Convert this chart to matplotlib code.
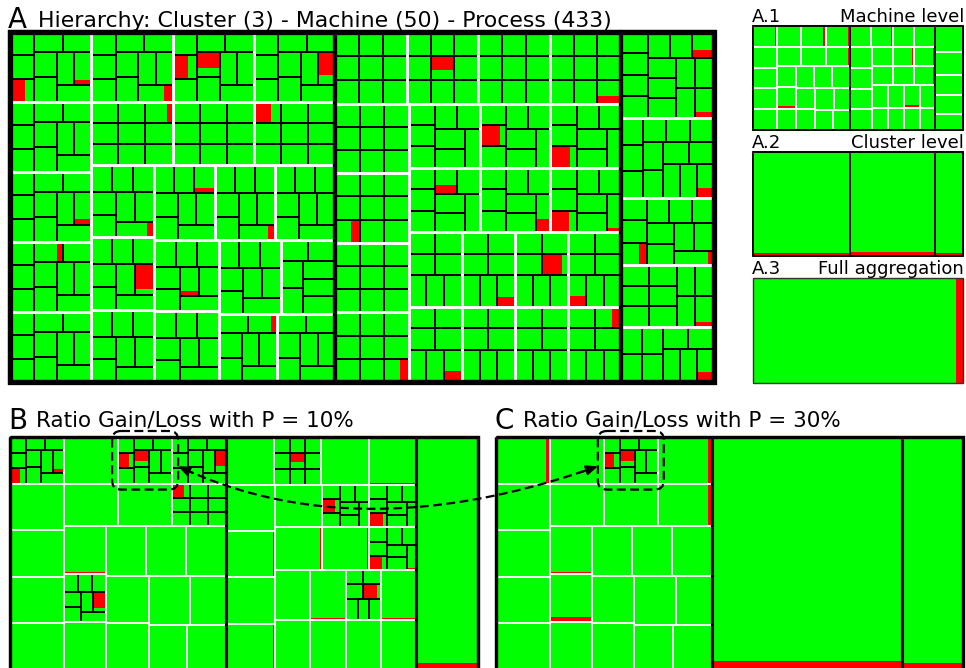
import numpy as np
import matplotlib
matplotlib.use('Agg')
import matplotlib.pyplot as plt
from matplotlib.patches import Rectangle, FancyBboxPatch

GREEN = '#00ff00'
RED = '#ff0000'

# processes per machine, one list per cluster
c1_procs = [10, 10, 10, 10, 10, 10, 10, 10, 9, 9, 8, 9, 8, 8, 8, 8, 8, 7, 7, 7, 8, 8, 8]
c2_procs = [9, 9, 9, 9, 9, 9, 9, 9, 8, 8, 8, 8, 8, 8, 7, 7, 7, 7, 7, 7, 7, 7]
c3_procs = [14, 13, 10, 11, 9]
machine_procs = [c1_procs, c2_procs, c3_procs]

# (cluster, machine, process, loss share)
red_procs = [
    (0, 0, 2, 0.62), (0, 2, 1, 0.65), (0, 2, 5, 0.65), (0, 3, 8, 0.70),
    (0, 11, 0, 0.65), (0, 12, 6, 0.80),
    (1, 1, 5, 0.60), (1, 9, 1, 0.75), (1, 10, 2, 0.75), (1, 13, 2, 0.70),
    (1, 18, 3, 0.75),
    (0, 0, 8, 0.15), (0, 1, 9, 0.25), (0, 5, 8, 0.20), (0, 15, 7, 0.20),
    (0, 6, 3, 0.20), (0, 8, 4, 0.20), (0, 14, 2, 0.20), (0, 18, 1, 0.20),
    (0, 20, 5, 0.20), (0, 10, 7, 0.20),
    (1, 3, 8, 0.30), (1, 12, 7, 0.35), (1, 16, 6, 0.30), (1, 13, 7, 0.10),
    (1, 5, 2, 0.35), (1, 7, 8, 0.35), (1, 11, 3, 0.35), (1, 15, 6, 0.35),
    (1, 19, 4, 0.35), (1, 21, 1, 0.35),
    (2, 0, 13, 0.20), (2, 2, 9, 0.15), (2, 3, 10, 0.15),
    (2, 1, 12, 0.30), (2, 4, 8, 0.30), (2, 0, 6, 0.30), (2, 3, 2, 0.30),
]

# which nodes are opened up in each view
b_clusters = [0, 1]
b_machines = [(0, 0), (0, 2), (0, 3), (0, 11), (0, 12),
              (1, 1), (1, 9), (1, 10), (1, 13), (1, 18)]
c_clusters = [0]
c_machines = [(0, 2)]
dashed_machine = (0, 2)

loss = [[np.zeros(n) for n in procs] for procs in machine_procs]
for ci, mi, pi, v in red_procs:
    loss[ci][mi][pi] = v
cluster_sizes = [sum(p) for p in machine_procs]


def worst(row, side):
    s = sum(row)
    return max(max(side * side * r / (s * s), s * s / (side * side * r)) for r in row)


def squarify(values, x, y, w, h):
    order = sorted(range(len(values)), key=lambda i: -values[i])
    scale = w * h / sum(values)
    areas = [values[i] * scale for i in order]
    out = [None] * len(values)
    k = 0
    while k < len(areas):
        side = min(w, h)
        row = [areas[k]]
        while k + len(row) < len(areas) and \
                worst(row + [areas[k + len(row)]], side) <= worst(row, side):
            row.append(areas[k + len(row)])
        s = sum(row)
        if w >= h:
            cw = s / h
            yy = y
            for j, a in enumerate(row):
                out[order[k + j]] = (x, yy, cw, a / cw)
                yy += a / cw
            x += cw
            w -= cw
        else:
            rh = s / w
            xx = x
            for j, a in enumerate(row):
                out[order[k + j]] = (xx, y, a / rh, rh)
                xx += a / rh
            y += rh
            h -= rh
        k += len(row)
    return out


def fill_cell(ax, r, lo):
    x, y, w, h = r
    if lo <= 0:
        ax.add_patch(Rectangle((x, y), w, h, fc=GREEN, ec='none', zorder=1))
        return
    vals = [1 - lo, lo]
    cols = [GREEN, RED]
    for (sx, sy, sw, sh), c in zip(squarify(vals, x, y, w, h), cols):
        ax.add_patch(Rectangle((sx, sy), sw, sh, fc=c, ec='none', zorder=1))


def border(ax, r, color, lw, z):
    x, y, w, h = r
    ax.add_patch(Rectangle((x, y), w, h, fill=False, ec=color, lw=lw, zorder=z))


def draw_tree(ax, panel, open_clusters, open_machines, lw_p, lw_m, lw_c, lw_o,
              full=False):
    found = {}
    if full:
        fill_cell(ax, panel, sum(l.sum() for c in loss for l in c) / sum(cluster_sizes))
        border(ax, panel, '#333333', lw_o, 6)
        return found
    crects = squarify(cluster_sizes, *panel)
    for ci, cr in enumerate(crects):
        if ci in open_clusters:
            mrects = squarify(machine_procs[ci], *cr)
            for mi, mr in enumerate(mrects):
                found[(ci, mi)] = mr
                if (ci, mi) in open_machines:
                    n = machine_procs[ci][mi]
                    prects = squarify([1] * n, *mr)
                    for pi, pr in enumerate(prects):
                        fill_cell(ax, pr, loss[ci][mi][pi])
                        border(ax, pr, 'black', lw_p, 2)
                else:
                    fill_cell(ax, mr, loss[ci][mi].mean())
                border(ax, mr, 'white', lw_m, 3)
        else:
            fill_cell(ax, cr, sum(l.sum() for l in loss[ci]) / cluster_sizes[ci])
        border(ax, cr, 'black', lw_c, 4)
    border(ax, panel, 'black', lw_o, 5)
    return found


fig = plt.figure(figsize=(9.66, 6.68), dpi=100)
ax = fig.add_axes([0, 0, 1, 1])
ax.set_xlim(0, 966)
ax.set_ylim(668, 0)
ax.axis('off')

PA = (10, 32, 704, 350)
PA1 = (753, 26, 210, 104)
PA2 = (753, 152, 210, 104)
PA3 = (753, 278, 210, 105)
PB = (10, 437, 468, 233)
PC = (496, 437, 467, 233)

# shadow behind panel A
ax.add_patch(Rectangle((PA[0] - 2, PA[1] + 3), PA[2], PA[3], fc='#999999', ec='none', zorder=0))
draw_tree(ax, PA, [0, 1, 2], [(c, m) for c in range(3) for m in range(len(machine_procs[c]))],
          1.4, 1.9, 3.0, 3.8)
draw_tree(ax, PA1, [0, 1, 2], [], 1.0, 1.3, 1.1, 1.2)
draw_tree(ax, PA2, [], [], 1.0, 1.0, 1.1, 1.2)
draw_tree(ax, PA3, [], [], 1.0, 1.0, 1.0, 1.0, full=True)
mb = draw_tree(ax, PB, b_clusters, b_machines, 1.1, 1.1, 2.2, 2.4)
mc = draw_tree(ax, PC, c_clusters, c_machines, 1.1, 1.1, 2.2, 2.4)

# dashed boxes around the same machine in B and C
boxes = []
for m in (mb, mc):
    x, y, w, h = m[dashed_machine]
    pad = 6
    ax.add_patch(FancyBboxPatch((x - pad, y - pad), w + 2 * pad, h + 2 * pad,
                                boxstyle='round,pad=0,rounding_size=9',
                                fill=False, ec='black', lw=1.6, ls=(0, (4, 2)), zorder=8))
    boxes.append((x - pad, y - pad, w + 2 * pad, h + 2 * pad))

bx, by, bw, bh = boxes[0]
cx, cy, cw, ch = boxes[1]
p0 = np.array([bx + bw, by + bh / 2 + 6])
p2 = np.array([cx, cy + bh / 2 + 6])
p1 = np.array([(p0[0] + p2[0]) / 2 - 30, p0[1] + 85])
t = np.linspace(0, 1, 200)[:, None]
curve = (1 - t) ** 2 * p0 + 2 * (1 - t) * t * p1 + t ** 2 * p2
ax.plot(curve[4:-4, 0], curve[4:-4, 1], color='black', lw=1.6, ls=(0, (4, 2)), zorder=9)
for tip, back in ((curve[0], curve[8]), (curve[-1], curve[-9])):
    ax.annotate('', xy=tip, xytext=back,
                arrowprops=dict(arrowstyle='-|>,head_length=0.7,head_width=0.3',
                                color='black', lw=1.4, shrinkA=0, shrinkB=0), zorder=9)

# labels
ax.text(8, 28, 'A', fontsize=20, va='baseline', ha='left')
ax.text(38, 27, 'Hierarchy: Cluster (3) - Machine (50) - Process (433)', fontsize=15.8,
        va='baseline', ha='left')
ax.text(752, 22, 'A.1', fontsize=13, va='baseline', ha='left')
ax.text(964, 22, 'Machine level', fontsize=13, va='baseline', ha='right')
ax.text(752, 148, 'A.2', fontsize=13, va='baseline', ha='left')
ax.text(964, 148, 'Cluster level', fontsize=13, va='baseline', ha='right')
ax.text(752, 274, 'A.3', fontsize=13, va='baseline', ha='left')
ax.text(964, 274, 'Full aggregation', fontsize=13, va='baseline', ha='right')
ax.text(8, 429, 'B', fontsize=20, va='baseline', ha='left')
ax.text(36, 427, 'Ratio Gain/Loss with P = 10%', fontsize=15.5, va='baseline', ha='left')
ax.text(494, 429, 'C', fontsize=20, va='baseline', ha='left')
ax.text(523, 427, 'Ratio Gain/Loss with P = 30%', fontsize=15.5, va='baseline', ha='left')

fig.savefig('out.png', dpi=100)
